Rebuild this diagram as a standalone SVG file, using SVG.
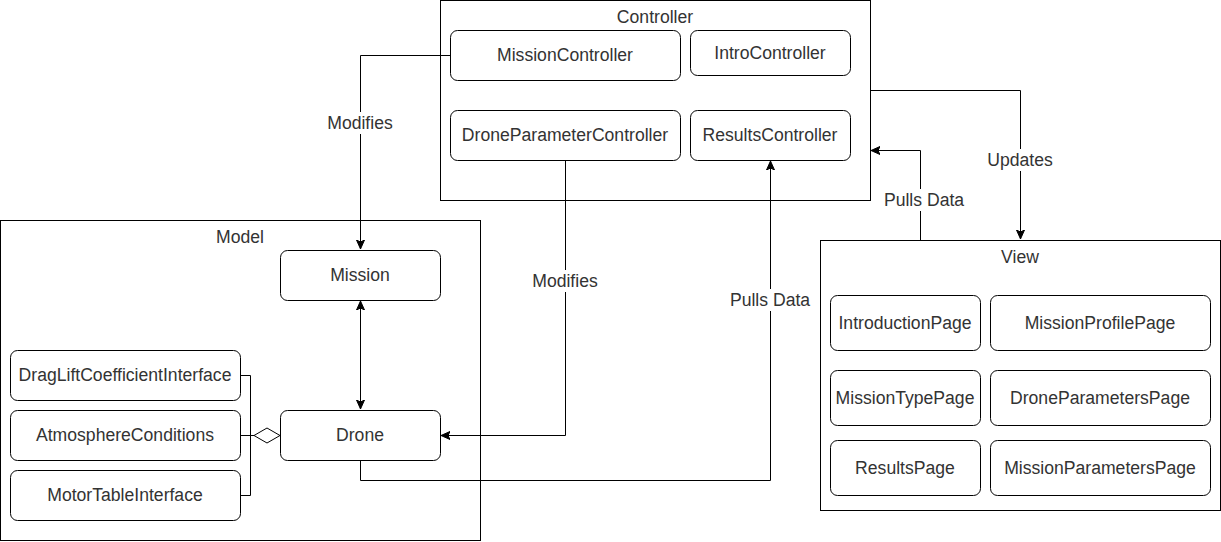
<svg xmlns="http://www.w3.org/2000/svg" width="1221" height="542" viewBox="0 0 1221 542">
<style>
.c{fill:#fff;stroke:#000;stroke-width:1}
.n{fill:#fff;stroke:#000;stroke-width:1}
.t{font-family:"Liberation Sans",Arial,sans-serif;font-size:17.6px;fill:#333;text-anchor:middle;dominant-baseline:central}
.e{fill:none;stroke:#000;stroke-width:1}
.lb{fill:#fff}
</style>
<defs>
<marker id="a" viewBox="0 0 10 10" refX="9" refY="5" markerWidth="10" markerHeight="10" markerUnits="userSpaceOnUse" orient="auto-start-reverse">
<path d="M0,1 L9,5 L0,9 L2,5 Z" fill="#000" stroke="#000" stroke-width="1"/>
</marker>
</defs>
<g id="controller">
<rect class="c" x="440.5" y="0.5" width="430" height="200"/>
<text class="t" x="655" y="17">Controller</text>
</g>
<g id="model">
<rect class="c" x="0.5" y="220.5" width="480" height="320"/>
<text class="t" x="240" y="237">Model</text>
</g>
<g id="view">
<rect class="c" x="820.5" y="240.5" width="400" height="270"/>
<text class="t" x="1020" y="257">View</text>
</g>
<g id="edges">
<polyline class="e" points="450,55.5 360.5,55.5 360.5,249" marker-end="url(#a)"/>
<polyline class="e" points="565.5,160 565.5,435.5 441,435.5" marker-end="url(#a)"/>
<polyline class="e" points="360.5,460 360.5,480.5 770.5,480.5 770.5,161" marker-end="url(#a)"/>
<line class="e" x1="360.5" y1="301" x2="360.5" y2="409" marker-start="url(#a)" marker-end="url(#a)"/>
<polyline class="e" points="871,90.5 1020.5,90.5 1020.5,239" marker-end="url(#a)"/>
<polyline class="e" points="920.5,240 920.5,150.5 871,150.5" marker-end="url(#a)"/>
<polyline class="e" points="240,375.5 250.5,375.5 250.5,495.5 240,495.5"/>
<line class="e" x1="240" y1="435.5" x2="254" y2="435.5"/>
<path d="M280,435.5 L267,428 L254,435.5 L267,443 Z" fill="#fff" stroke="#000" stroke-width="1"/>
<rect class="lb" x="324" y="112" width="72" height="22"/>
<text class="t" x="360" y="123">Modifies</text>
<rect class="lb" x="529" y="270" width="72" height="22"/>
<text class="t" x="565" y="281">Modifies</text>
<rect class="lb" x="726" y="289" width="88" height="22"/>
<text class="t" x="770" y="300">Pulls Data</text>
<rect class="lb" x="983" y="149" width="74" height="22"/>
<text class="t" x="1020" y="160">Updates</text>
<rect class="lb" x="880" y="189" width="88" height="22"/>
<text class="t" x="924" y="200">Pulls Data</text>
</g>
<g id="MissionController"><rect class="n" x="450.5" y="30.5" width="230" height="50" rx="7"/><text class="t" x="565" y="55">MissionController</text></g>
<g id="IntroController"><rect class="n" x="690.5" y="30.5" width="160" height="45" rx="7"/><text class="t" x="770" y="53">IntroController</text></g>
<g id="DroneParameterController"><rect class="n" x="450.5" y="110.5" width="230" height="50" rx="7"/><text class="t" x="565" y="135">DroneParameterController</text></g>
<g id="ResultsController"><rect class="n" x="690.5" y="110.5" width="160" height="50" rx="7"/><text class="t" x="770" y="135">ResultsController</text></g>
<g id="Mission"><rect class="n" x="280.5" y="250.5" width="160" height="50" rx="7"/><text class="t" x="360" y="275">Mission</text></g>
<g id="Drone"><rect class="n" x="280.5" y="410.5" width="160" height="50" rx="7"/><text class="t" x="360" y="435">Drone</text></g>
<g id="DragLiftCoefficientInterface"><rect class="n" x="10.5" y="350.5" width="230" height="50" rx="7"/><text class="t" x="125" y="375">DragLiftCoefficientInterface</text></g>
<g id="AtmosphereConditions"><rect class="n" x="10.5" y="410.5" width="230" height="50" rx="7"/><text class="t" x="125" y="435">AtmosphereConditions</text></g>
<g id="MotorTableInterface"><rect class="n" x="10.5" y="470.5" width="230" height="50" rx="7"/><text class="t" x="125" y="495">MotorTableInterface</text></g>
<g id="IntroductionPage"><rect class="n" x="830.5" y="295.5" width="150" height="55" rx="7"/><text class="t" x="905" y="323">IntroductionPage</text></g>
<g id="MissionProfilePage"><rect class="n" x="990.5" y="295.5" width="220" height="55" rx="7"/><text class="t" x="1100" y="323">MissionProfilePage</text></g>
<g id="MissionTypePage"><rect class="n" x="830.5" y="370.5" width="150" height="55" rx="7"/><text class="t" x="905" y="398">MissionTypePage</text></g>
<g id="DroneParametersPage"><rect class="n" x="990.5" y="370.5" width="220" height="55" rx="7"/><text class="t" x="1100" y="398">DroneParametersPage</text></g>
<g id="ResultsPage"><rect class="n" x="830.5" y="440.5" width="150" height="55" rx="7"/><text class="t" x="905" y="468">ResultsPage</text></g>
<g id="MissionParametersPage"><rect class="n" x="990.5" y="440.5" width="220" height="55" rx="7"/><text class="t" x="1100" y="468">MissionParametersPage</text></g>
</svg>
